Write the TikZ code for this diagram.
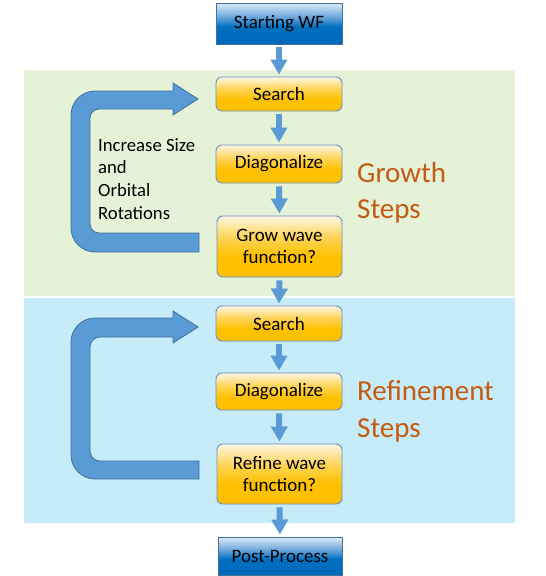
\documentclass[tikz,border=0pt]{standalone}
\usepackage{fontspec}
\setmainfont{Carlito}
\usetikzlibrary{arrows.meta}
\definecolor{gdark}{HTML}{FFC000}
\definecolor{gmid}{HTML}{FFD55A}
\definecolor{glight}{HTML}{FFF7E3}
\definecolor{bdark}{HTML}{0068BC}
\definecolor{bmid}{HTML}{0070C0}
\definecolor{bsoft}{HTML}{79AEDF}
\definecolor{blight}{HTML}{DDEBF7}
\definecolor{gborder}{HTML}{6C8EBF}
\definecolor{bborder}{HTML}{41719C}
\definecolor{arrowblue}{HTML}{5B9BD5}
\definecolor{loopblue}{HTML}{5B9BD5}
\definecolor{loopborder}{HTML}{41719C}
\definecolor{panelgreen}{HTML}{E5F2D8}
\definecolor{panelblue}{HTML}{C6ECFA}
\definecolor{steporange}{HTML}{C55A11}
\pgfdeclareverticalshading{goldshade}{100bp}{color(0bp)=(gdark); color(25bp)=(gdark); color(42bp)=(gdark); color(58bp)=(gmid); color(75bp)=(glight); color(100bp)=(glight)}
\pgfdeclareverticalshading{blueshade}{100bp}{color(0bp)=(bdark); color(25bp)=(bdark); color(46bp)=(bmid); color(60bp)=(bsoft); color(75bp)=(blight); color(100bp)=(blight)}
\begin{document}
\begin{tikzpicture}[x=1pt,y=-1pt,
  goldbox/.style={draw=gborder, line width=0.9pt, rounded corners=6pt, shade, shading=goldshade, minimum width=126pt, inner sep=0pt, align=center, font=\fontsize{19}{21.7}\selectfont},
  bluebox/.style={draw=bborder, line width=0.9pt, shade, shading=blueshade, minimum width=126pt, inner sep=0pt, font=\fontsize{19}{21.7}\selectfont},
  flow/.style={draw=arrowblue, line width=6pt, -{Triangle[width=16pt,length=15pt]}, shorten <=3pt, shorten >=2pt},
  loopshape/.style={fill=loopblue, draw=loopborder, line width=0.8pt, line join=miter},
  steptext/.style={text=steporange, font=\fontsize{29}{36}\selectfont, anchor=base west, inner sep=0pt},
  side/.style={font=\fontsize{18.7}{22.7}\selectfont, anchor=base west, inner sep=0pt}]
\useasboundingbox (0,0) rectangle (546,576);
% panels
\fill[panelgreen] (24,70) rectangle (515,296);
\fill[panelblue] (24,298) rectangle (515,523);
% boxes
\node[bluebox, minimum height=41pt] (start) at (279,23.5) {Starting WF};
\node[goldbox, minimum height=34pt] (s1) at (279,94) {Search};
\node[goldbox, minimum height=38pt] (d1) at (279,164) {Diagonalize};
\node[goldbox, minimum height=61pt, minimum width=125pt] (g1) at (279.5,246.5) {Grow wave\\function?};
\node[goldbox, minimum height=35pt] (s2) at (279,323.5) {Search};
\node[goldbox, minimum height=37pt] (d2) at (279,391.5) {Diagonalize};
\node[goldbox, minimum height=60pt, minimum width=125pt] (r2) at (279.5,474) {Refine wave\\function?};
\node[bluebox, minimum height=38pt, minimum width=124pt] (post) at (280,556) {Post-Process};
% flow arrows
\draw[flow] (start.south) -- (s1.north);
\draw[flow] (s1.south) -- (d1.north);
\draw[flow] (d1.south) -- (g1.north);
\draw[flow] (g1.south) -- (s2.north);
\draw[flow] (s2.south) -- (d2.north);
\draw[flow] (d2.south) -- (r2.north);
\draw[flow] (r2.south) -- (post.north);
% loop arrows
\draw[loopshape] (199,252) -- (95,252) .. controls (81.8,252) and (71,241.2) .. (71,228) -- (71,115)
  .. controls (71,101.8) and (81.8,91) .. (95,91) -- (173,91) -- (173,83) -- (198,99) -- (173,115) -- (173,109)
  -- (99,109) .. controls (94,109) and (90,113) .. (90,118) -- (90,224) .. controls (90,229) and (94,233) .. (99,233) -- (199,233) -- cycle;
\draw[loopshape] (199,479) -- (95,479) .. controls (81.8,479) and (71,468.2) .. (71,455) -- (71,342)
  .. controls (71,328.8) and (81.8,318) .. (95,318) -- (173,318) -- (173,311) -- (198,327) -- (173,343) -- (173,337)
  -- (100,337) .. controls (94.5,337) and (90,341.5) .. (90,347) -- (90,451) .. controls (90,456.5) and (94.5,461) .. (100,461) -- (199,461) -- cycle;
% side text
\node[side] (inc1) at (98,151) {Increase Size};
\node[side] (inc2) at (98,173.7) {and};
\node[side] (inc3) at (98,196.3) {Orbital};
\node[side] (inc4) at (98,219) {Rotations};
% step labels
\node[steptext] (gs1) at (357,182) {Growth};
\node[steptext] (gs2) at (357,218) {Steps};
\node[steptext] (rs1) at (357,400) {Refinement};
\node[steptext] (rs2) at (357,437) {Steps};
\end{tikzpicture}
\end{document}
